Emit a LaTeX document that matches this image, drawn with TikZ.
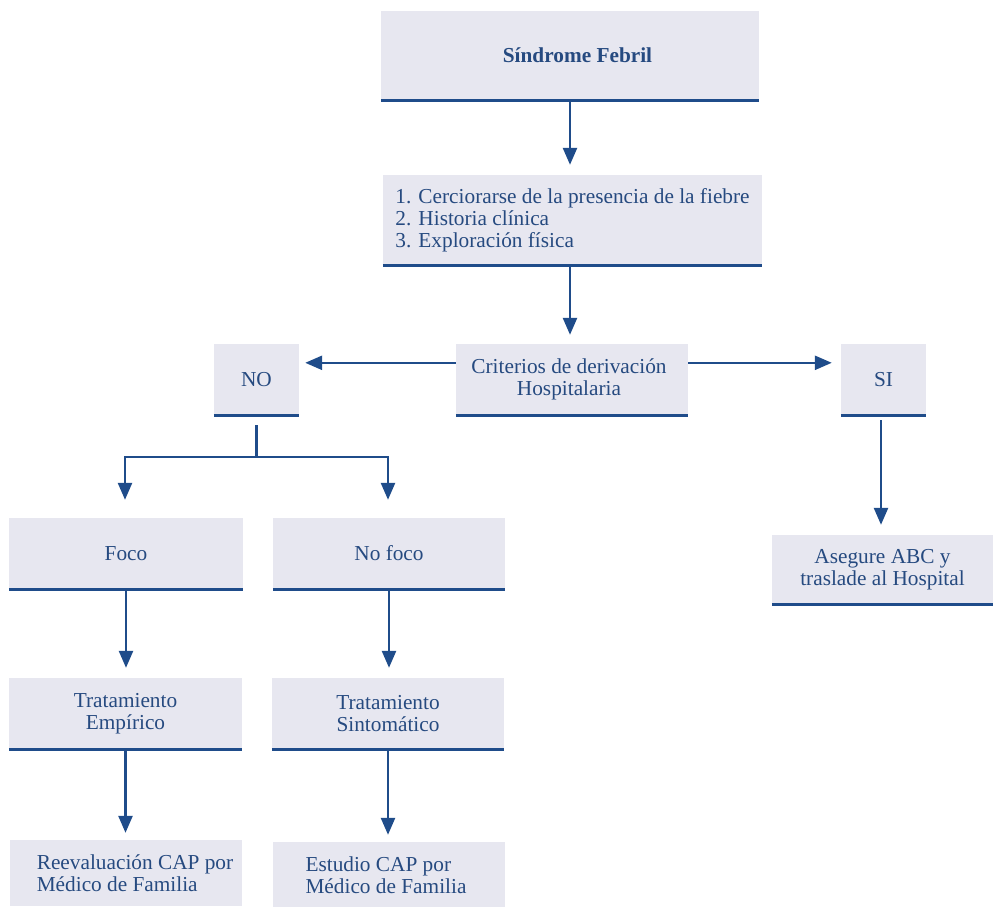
\documentclass[tikz,border=0pt]{standalone}
\usepackage{fontspec}
\setmainfont{Liberation Serif}
\usetikzlibrary{arrows.meta,calc}
\definecolor{boxfill}{HTML}{E7E7F0}
\definecolor{dblue}{HTML}{1F4C8A}
\definecolor{tblue}{HTML}{264A80}
\begin{document}
\begin{tikzpicture}[x=1pt,y=-1pt,
  box/.style={fill=boxfill, inner sep=0pt, text=tblue, font=\fontsize{21.3}{22}\selectfont, align=center},
  bline/.style={draw=dblue, line width=3pt},
  arr/.style={draw=dblue, line width=2.5pt, -{Triangle[length=17pt,width=14pt]}},
  lnk/.style={draw=dblue, line width=2.5pt}]
\useasboundingbox (0,0) rectangle (993,906);

\node[box, minimum width=378pt, minimum height=89pt] (top) at (570,55.5) {\hspace*{15pt}\textbf{Síndrome Febril}};
\node[box, minimum width=379pt, minimum height=90pt, align=left] (second) at (572.5,220)
  {1. Cerciorarse de la presencia de la fiebre\\2. Historia clínica\\3. Exploración física};
\node[box, minimum width=232pt, minimum height=71pt] (crit) at (572,379.5) {\hspace*{-6pt}Criterios de derivación\\\hspace*{-6pt}Hospitalaria};
\node[box, minimum width=85pt, minimum height=71pt] (no) at (256.5,379.5) {NO};
\node[box, minimum width=85pt, minimum height=71pt] (si) at (883.5,379.5) {SI};
\node[box, minimum width=234pt, minimum height=71pt] (foco) at (126,553.5) {Foco};
\node[box, minimum width=232pt, minimum height=71pt] (nofoco) at (389,553.5) {No foco};
\node[box, minimum width=233pt, minimum height=71pt] (te) at (125.5,713.5) {Tratamiento\\Empírico};
\node[box, minimum width=232pt, minimum height=71pt] (ts) at (388,713.5) {Tratamiento\\Sintomático};
\node[box, minimum width=232pt, minimum height=66pt, align=left] (reev) at (126,873)
  {\hspace*{18pt}Reevaluación CAP por\\\hspace*{18pt}Médico de Familia};
\node[box, minimum width=232pt, minimum height=66pt, align=left] (est) at (389,875)
  {Estudio CAP por\hspace*{6pt}\\Médico de Familia\hspace*{6pt}};
\node[box, minimum width=221pt, minimum height=69pt] (aseg) at (882.5,569.5) {Asegure ABC y\\traslade al Hospital};

\foreach \n in {top,second,crit,no,si,foco,nofoco,te,ts,aseg}
  \draw[bline] (\n.south west) -- (\n.south east);

\draw[arr, shorten >=10pt] (top.south) -- (second.north -| top.south);
\draw[arr, shorten >=9pt] (second.south -| top.south) -- (crit.north -| top.south);
\draw[arr] ($(crit.north west)+(0,19)$) -- ($(no.north east)+(6,19)$);
\draw[arr] ($(crit.north east)+(0,19)$) -- ($(si.north west)+(-9,19)$);
\draw[lnk] ($(no.south)+(0,10)$) -- ++(0,32) coordinate (j);
\draw[arr] (j) -| ($(foco.north)+(-1,-18)$);
\draw[arr] (j) -| ($(nofoco.north)+(-1,-18)$);
\draw[arr, shorten >=10pt] (foco.south) -- (te.north -| foco.south);
\draw[arr, shorten >=10pt] (nofoco.south) -- (ts.north -| nofoco.south);
\draw[arr, shorten >=7pt] (te.south) -- (reev.north -| te.south);
\draw[arr, shorten >=7pt] (ts.south) -- (est.north -| ts.south);
\draw[arr, shorten <=5pt, shorten >=10pt] ($(si.south)+(-2.5,0)$) -- ($(aseg.north)+(-1.5,0)$);
\end{tikzpicture}
\end{document}
